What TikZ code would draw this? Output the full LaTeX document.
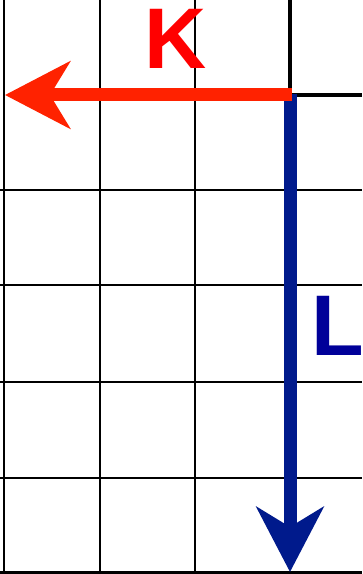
\documentclass[tikz,border=0pt]{standalone}
\usepackage{fontspec}
\setmainfont{Liberation Sans}
\usetikzlibrary{arrows.meta}
\definecolor{kred}{RGB}{255,34,0}
\definecolor{ktext}{RGB}{255,0,0}
\definecolor{lblue}{RGB}{0,26,140}
\definecolor{ltext}{RGB}{0,0,153}
\tikzset{
  gridline/.style={black, line width=0.04cm},
  axisline/.style={black, line width=0.08cm},
  vec/.style={line width=0.26cm, -{Stealth[length=1.3cm, width=1.34cm, inset=0.4cm]}},
  veclabel/.style={inner sep=0pt, font=\bfseries\fontsize{49}{49}\selectfont}
}
\begin{document}
\begin{tikzpicture}[x=0.02cm, y=-0.02cm]
    \fill[white] (0,0) rectangle (362,574);
    \useasboundingbox (0,0) rectangle (362,574);
    % grid
    \foreach \gx in {4,100,195} {
      \draw[gridline] (\gx,0) -- (\gx,574);
    }
    \foreach \gy in {190,285,382,478} {
      \draw[gridline] (0,\gy) -- (362,\gy);
    }
    \draw[gridline, line width=0.06cm] (0,572) -- (362,572);
    \draw[axisline] (290,0) -- (290,95) -- (362,95);
    % vectors
    \coordinate (origin) at (290,95);
    \coordinate (ltop) at (290,94);
    \coordinate (kstart) at (292,95);
    \coordinate (kend) at (5,95);
    \coordinate (lend) at (290,572);
    \draw[vec, lblue] (ltop) -- (lend);
    \draw[vec, kred] (kstart) -- (kend);
    \node[veclabel, text=ktext] (klabel) at (176,39) {K};
    \node[veclabel, text=ltext] (llabel) at (338,326) {L};
  \end{tikzpicture}
\end{document}
